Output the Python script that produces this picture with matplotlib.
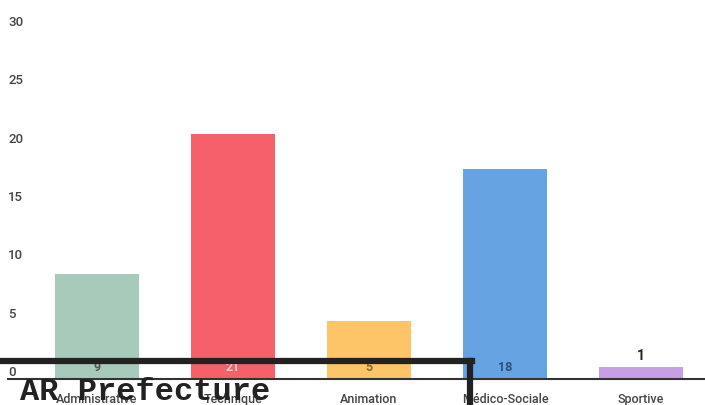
import matplotlib
matplotlib.use("Agg")
import matplotlib.pyplot as plt
from matplotlib.lines import Line2D

categories = ["Administrative", "Technique", "Animation", "Médico-Sociale", "Sportive"]
values = [9, 21, 5, 18, 1]
colors = ["#a8cabb", "#f6606a", "#fdc468", "#66a3e2", "#c6a0e4"]
label_colors = ["#555555", "#f6d0d3", "#8a6a30", "#2c4f7a", "#222222"]
yticks = [0, 5, 10, 15, 20, 25, 30]

plt.rcParams['font.family'] = ['Roboto', 'DejaVu Sans']

fig = plt.figure(figsize=(7.05, 4.05), dpi=100)
ax = fig.add_axes([0.041, 0.064, 0.959, 0.864])

x = range(len(categories))
ax.bar(x, values, width=0.62, color=colors, zorder=2)
ax.set_xlim(-0.5, 4.47)
ax.set_ylim(0, 30)

for i, v in enumerate(values):
    if v > 2:
        ax.text(i, 0.4, str(v), ha='center', va='bottom', fontsize=9,
                fontweight='bold', color=label_colors[i], zorder=3)
    else:
        ax.text(i, v + 0.4, str(v), ha='center', va='bottom', fontsize=10,
                fontweight='bold', color=label_colors[i], zorder=3)

ax.set_yticks(yticks)
ax.set_yticklabels([str(t) for t in yticks], fontsize=9.5, color="#444444",
                   va='bottom', fontweight='medium')
ax.tick_params(axis='y', length=0, pad=-2)
for lbl in ax.get_yticklabels():
    lbl.set_horizontalalignment('left')
    lbl.set_x(-0.035)

ax.set_xticks(list(x))
ax.set_xticklabels(categories, fontsize=9, color="#444444", fontweight='medium')
ax.tick_params(axis='x', length=0, pad=10)

for s in ['top', 'right', 'left']:
    ax.spines[s].set_visible(False)
ax.spines['bottom'].set_color("#333333")
ax.spines['bottom'].set_linewidth(1.5)
ax.spines['bottom'].set_bounds(-0.65, 4.47)
ax.spines['bottom'].set_clip_on(False)

# stamp overlay
fig.add_artist(Line2D([0, 472 / 705], [1 - 361 / 405, 1 - 361 / 405],
                      color="#222222", lw=4.5, transform=fig.transFigure))
fig.add_artist(Line2D([470 / 705, 470 / 705], [1 - 361 / 405, 0],
                      color="#222222", lw=4.5, transform=fig.transFigure))
fig.text(20 / 705, 1 - 392 / 405, "AR Prefecture", family="Liberation Mono",
         fontsize=23, fontweight='bold', color="#222222", va='center', ha='left')

fig.savefig("out.png", dpi=100)
